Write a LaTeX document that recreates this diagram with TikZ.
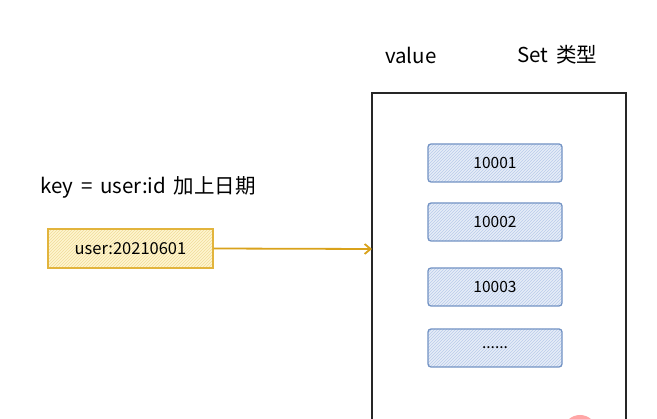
\documentclass[tikz,border=0pt]{standalone}
\usepackage{fontspec}
\setmainfont{Noto Sans CJK SC}
\usetikzlibrary{patterns,arrows.meta}
\definecolor{keyfill}{HTML}{FFF6D0}
\definecolor{keydraw}{HTML}{E2B43C}
\definecolor{arrowc}{HTML}{D9A21B}
\definecolor{valfill}{HTML}{E6EDF8}
\definecolor{valdraw}{HTML}{7393C4}
\definecolor{hatchb}{HTML}{B9CBEA}
\definecolor{hatchy}{HTML}{F0DC9A}
\newcommand\mylblfont{\fontsize{20.5}{20.5}\selectfont\spaceskip 0.38em\relax}
\begin{document}
\begin{tikzpicture}[x=1pt,y=-1pt,
  lbl/.style={inner sep=0pt,font=\mylblfont},
  valbox/.style={draw=valdraw,line width=1.3pt,rounded corners=3pt,
    preaction={fill=valfill},pattern=north east lines,pattern color=hatchb,
    minimum width=134pt,minimum height=38pt,inner sep=0pt,
    font=\fontsize{15.5}{15.5}\selectfont},
  keybox/.style={draw=keydraw,line width=1.1pt,
    preaction={fill=keyfill},pattern=north east lines,pattern color=hatchy,
    minimum width=165pt,minimum height=39pt,inner sep=0pt,
    font=\fontsize{16.5}{16.5}\selectfont},
  container/.style={draw=black!85,line width=1.3pt}]
\useasboundingbox (0,0) rectangle (657,419);
\fill[white] (0,0) rectangle (657,419);
% container
\draw[container] (372,425) -- (372,93) -- (626,93) -- (626,425);
\coordinate (cl) at (372,249);
% labels
\node[lbl,anchor=west] (value) at (385,55) {value};
\node[lbl,anchor=west] (settype) at (517,55) {Set 类型};
\node[lbl,anchor=west] (keylbl) at (40,187) {key = user:id 加上日期};
% value boxes
\node[valbox] (v1) at (495,163) {10001};
\node[valbox] (v2) at (495,222) {10002};
\node[valbox] (v3) at (495,287) {10003};
\node[valbox] (v4) at (495,348) {......};
% key box
\node[keybox] (k) at (130.5,248.5) {user:20210601};
% arrow
\draw[arrowc,line width=1.8pt,-{Straight Barb[length=6pt,width=10pt]}] (k.east) -- (cl);
% pink circle artefact
\fill[red!35!white] (580,432) circle (17pt);
\end{tikzpicture}
\end{document}
